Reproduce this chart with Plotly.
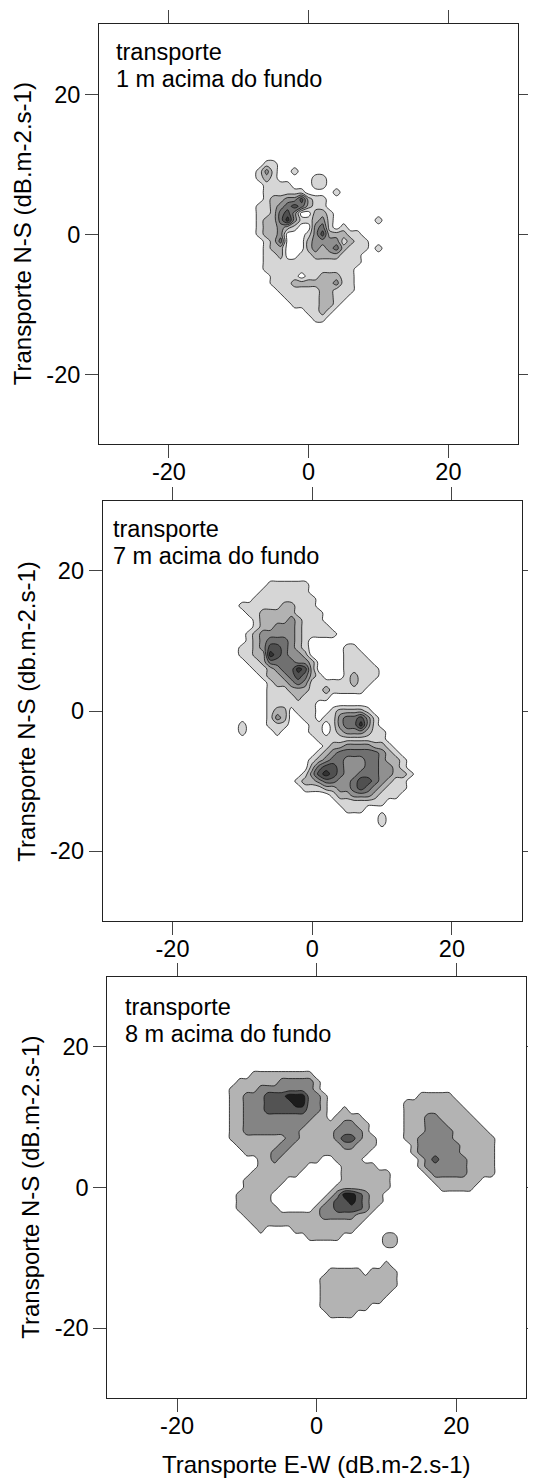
import plotly.graph_objects as go

# ---------------- data (level classes, 1-unit grid) ----------------
TICK_VALS = [-20, 0, 20]
TICK_TEXT = ["-20", "0", "20"]
AXIS_RANGE = [-30, 30]

PANEL_LABELS = ["1 m acima do fundo", "7 m acima do fundo", "8 m acima do fundo"]
Y_TITLES = ["Transporte N-S (dB.m-2.s-1)", "Transporte N-S (db.m-2.s-1)",
            "Transporte N-S (dB.m-2.s-1)"]
X_TITLE = "Transporte E-W (dB.m-2.s-1)"

# rows: (y, first x, level digits for consecutive x)
P1_ROWS = [
    (10, -9, "0001100000000000000000"),
    (9, -9, "0013100100000000000000"),
    (8, -9, "0012100000110000000000"),
    (7, -9, "0001111000110000000000"),
    (6, -9, "0001111110000100000000"),
    (5, -9, "0001223352110000000000"),
    (4, -9, "0011234542110000000000"),
    (3, -9, "0011245300221000000000"),
    (2, -9, "0012246311231000000100"),
    (1, -9, "0012232100341010000000"),
    (0, -9, "0012230001352221100000"),
    (-1, -9, "0001240002333312110000"),
    (-2, -9, "0001220002323421110100"),
    (-3, -9, "0001120011222211100000"),
    (-4, -9, "0001111111111111100000"),
    (-5, -9, "0001111111111111000000"),
    (-6, -9, "0000111101122211000000"),
    (-7, -9, "0000111222222311000000"),
    (-8, -9, "0000011111122111000000"),
    (-9, -9, "0000001111122110000000"),
    (-10, -9, "0000000111122100000000"),
    (-11, -9, "0000000001121000000000"),
    (-12, -9, "0000000000110000000000"),
]

P2_ROWS = [
    (18, -6, "111111"),
    (17, -7, "1111111"),
    (16, -8, "111111111"),
    (15, -10, "11111122111"),
    (14, -9, "11222221111"),
    (13, -8, "1222232111"),
    (12, -8, "12233321111"),
    (11, -9, "1233333211111"),
    (10, -9, "123444321"),
    (9, -10, "1123554321"), (9, 5, "11"),
    (8, -10, "1122654332"), (8, 5, "111"),
    (7, -9, "1124444332"), (7, 5, "1111"),
    (6, -8, "112344652"), (6, 5, "11111"),
    (5, -7, "122345421"), (5, 5, "12111"),
    (4, -6, "122343111111211"),
    (3, -6, "11122211211111"),
    (2, -6, "111121111"),
    (1, -6, "1111111"),
    (0, -6, "1220111"), (0, 3, "122221"),
    (-1, -6, "1320011"), (-1, 2, "11344531"),
    (-2, -10, "1"), (-2, -6, "11100011"), (-2, 3, "1344631"),
    (-3, -10, "1"), (-3, -5, "1"), (-3, 0, "11"), (-3, 3, "12333211"),
    (-4, 1, "1111111111"),
    (-5, 2, "1223333221"),
    (-6, 1, "123444444321"),
    (-7, 0, "12344333443221"),
    (-8, 0, "24554333443321"),
    (-9, -1, "1356543344433221"),
    (-10, -2, "1223443345543211"),
    (-11, -1, "111223345432111"),
    (-12, 3, "1223332111"),
    (-13, 4, "1111111"),
    (-14, 5, "111"),
    (-15, 10, "1"),
    (-16, 10, "1"),
]

P3_ROWS = [
    (16, -9, "111111111"),
    (15, -11, "111111222221"),
    (14, -12, "1111222222221"),
    (13, -12, "11222333444221"), (13, 15, "11111"),
    (12, -12, "11222333344221"), (12, 13, "11111111"),
    (11, -12, "11222333333221"), (11, 4, "1"), (11, 13, "111111111"),
    (10, -12, "11222222222211"), (10, 3, "1111"), (10, 13, "1112211111"),
    (9, -12, "11222222222111112211"), (9, 13, "11122211111"),
    (8, -12, "11222222221111122221"), (8, 13, "111222211111"),
    (7, -12, "111111112211111233211"), (7, 13, "1122222111111"),
    (6, -11, "11111122111111122111"), (6, 14, "122222211111"),
    (5, -10, "111122111111111111"), (5, 14, "122222211111"),
    (4, -8, "112111111001111"), (4, 15, "12322221111"),
    (3, -8, "11111110000011111"), (3, 15, "12222221111"),
    (2, -9, "11111110000001111111"), (2, 16, "1222221111"),
    (1, -10, "111111000000001111111"), (1, 17, "1111111"),
    (0, -10, "111110000000011111111"), (0, 18, "11111"),
    (-1, -11, "111110000000012443211"),
    (-2, -11, "111110000000123343211"),
    (-3, -11, "11111100000122333321"),
    (-4, -10, "111111111112222211"),
    (-5, -9, "1111111111111111"),
    (-6, -8, "1"), (-6, -3, "111111111"),
    (-7, -1, "11111"), (-7, 10, "11"),
    (-8, 10, "11"),
    (-11, 10, "1"),
    (-12, 2, "1111101111"),
    (-13, 1, "11111111111"),
    (-14, 1, "11111111111"),
    (-15, 1, "1111111111"),
    (-16, 1, "111111111"),
    (-17, 1, "1111111"),
    (-18, 2, "1111"),
]

GRAYS_FINE = ["#ffffff", "#d6d6d6", "#b2b2b2", "#909090", "#707070", "#505050", "#323232"]
GRAYS_COARSE = ["#ffffff", "#b3b3b3", "#848484", "#535353", "#1c1c1c"]

# ---------------- layout geometry (page pixels of the reference) ----------------
PAGE_W, PAGE_H = 536, 1478
BODY = 8                      # default page margin around the plot div
W, H = PAGE_W - BODY, PAGE_H - BODY
FRAMES = [  # left, right, top, bottom
    (99.0, 518.3, 24.3, 444.3),
    (102.7, 521.7, 500.7, 921.3),
    (107.3, 526.0, 976.7, 1398.3),
]
TEXT_POS = [  # x of text, center y line 1, center y line 2
    (114.0, 51.9, 79.2),
    (110.5, 528.6, 555.9),
    (122.5, 1006.9, 1033.6),
]
FONT = "Liberation Sans, Arial, sans-serif"


def px(x):
    return (x - BODY) / W


def py(y):
    return 1 - (y - BODY) / H


def build_grid(rows, xlo, xhi, ylo, yhi):
    xs = list(range(xlo, xhi + 1))
    ys = list(range(ylo, yhi + 1))
    z = [[0] * len(xs) for _ in ys]
    for (y, x0, digits) in rows:
        for i, ch in enumerate(digits):
            z[y - ylo][x0 - xlo + i] = int(ch)
    return xs, ys, z


def make_scale(colors):
    n = len(colors) - 1
    stops = []
    for v in range(n):
        stops.append([v / n, colors[v]])
        stops.append([(v + 0.5) / n, colors[v]])
    stops.append([1.0, colors[n]])
    return stops


panels = [
    dict(rows=P1_ROWS, lim=(-11, 14, -15, 12), colors=GRAYS_FINE, smooth=1.0),
    dict(rows=P2_ROWS, lim=(-14, 17, -19, 20), colors=GRAYS_FINE, smooth=1.0),
    dict(rows=P3_ROWS, lim=(-15, 28, -21, 18), colors=GRAYS_COARSE, smooth=0.9),
]

fig = go.Figure()
annotations = []

for i, p in enumerate(panels):
    k = "" if i == 0 else str(i + 1)
    xs, ys, z = build_grid(p["rows"], *p["lim"])
    n = max(max(r) for r in z)
    cols = p["colors"][: n + 1]
    fig.add_trace(go.Contour(
        x=xs, y=ys, z=z,
        xaxis="x" + k, yaxis="y" + k,
        autocontour=False,
        contours=dict(start=0.5, end=n - 0.5, size=1, coloring="fill", showlines=True),
        colorscale=make_scale(cols),
        showscale=False,
        line=dict(color="#111111", width=0.8, smoothing=p["smooth"]),
        hoverinfo="skip",
    ))

    left, right, top, bottom = FRAMES[i]
    dx = [px(left), px(right)]
    dy = [py(bottom), py(top)]
    axis_common = dict(
        range=AXIS_RANGE, tickmode="array", tickvals=TICK_VALS, ticktext=TICK_TEXT,
        ticks="outside", ticklen=13, tickwidth=1, tickcolor="#444444",
        showline=True, linecolor="#222222", linewidth=1, mirror="ticks",
        showgrid=False, zeroline=False,
        tickfont=dict(family=FONT, size=23.5, color="#000000"),
        fixedrange=True,
    )
    fig.update_layout(**{
        "xaxis" + k: dict(domain=dx, anchor="y" + k, ticklabelstandoff=-7, **axis_common),
        "yaxis" + k: dict(domain=dy, anchor="x" + k, **axis_common),
    })

    tx, ty1, ty2 = TEXT_POS[i]
    for txt, ty in (("transporte", ty1), (PANEL_LABELS[i], ty2)):
        annotations.append(dict(
            text=txt, x=px(tx), y=py(ty), xref="paper", yref="paper",
            xanchor="left", yanchor="middle", showarrow=False,
            font=dict(family=FONT, size=23.5, color="#000000"),
        ))
    annotations.append(dict(
        text=Y_TITLES[i], x=px(left - 77), y=py((top + bottom) / 2),
        xref="paper", yref="paper", xanchor="center", yanchor="middle",
        textangle=-90, showarrow=False,
        font=dict(family=FONT, size=24, color="#000000"),
    ))

annotations.append(dict(
    text=X_TITLE, x=px((FRAMES[2][0] + FRAMES[2][1]) / 2), y=py(1464.6),
    xref="paper", yref="paper", xanchor="center", yanchor="middle",
    showarrow=False, font=dict(family=FONT, size=24, color="#000000"),
))

fig.update_layout(
    width=W, height=H,
    margin=dict(l=0, r=0, t=0, b=0, autoexpand=False),
    paper_bgcolor="#ffffff", plot_bgcolor="#ffffff",
    showlegend=False,
    annotations=annotations,
)

fig.write_html("out.html")
